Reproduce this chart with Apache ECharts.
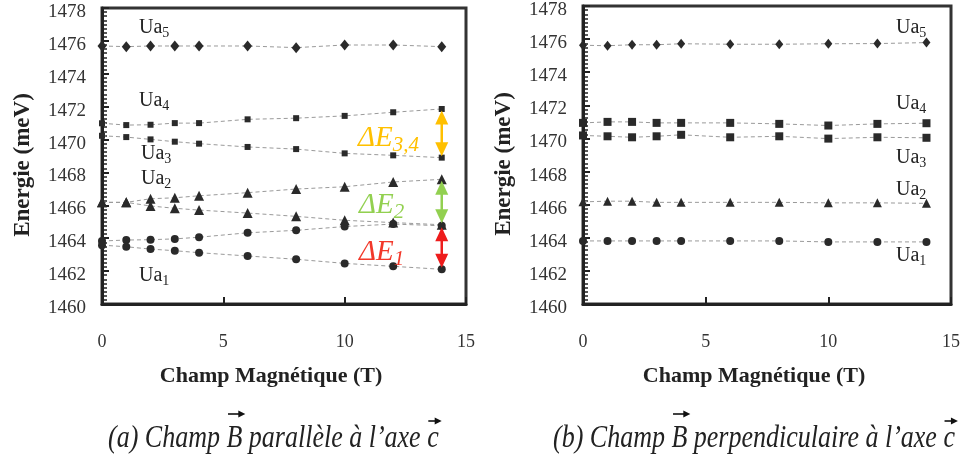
<!DOCTYPE html>
<html><head><meta charset="utf-8">
<script src="https://cdn.jsdelivr.net/npm/echarts@6/dist/echarts.min.js"></script>
<style>html,body{margin:0;padding:0;background:#fff}#c{width:966px;height:461px}</style>
</head><body><div id="c"></div>
<script>
// Magnetic field values (T)
const fieldT = [0, 1, 2, 3, 4, 6, 8, 10, 12, 14];
const xTicks = [0, 5, 10, 15];
const yTicks = [1460, 1462, 1464, 1466, 1468, 1470, 1472, 1474, 1476, 1478];

// (a) B parallel to c axis (meV)
const ua5Par  = [1475.69, 1475.65, 1475.69, 1475.69, 1475.69, 1475.69, 1475.59, 1475.75, 1475.75, 1475.65];
const ua4Par  = [1470.99, 1470.88, 1470.90, 1471.00, 1471.00, 1471.23, 1471.30, 1471.44, 1471.66, 1471.86];
const ua3Par  = [1470.23, 1470.15, 1470.01, 1469.87, 1469.75, 1469.55, 1469.42, 1469.16, 1469.04, 1468.90];
const ua2uPar = [1466.18, 1466.18, 1466.40, 1466.46, 1466.58, 1466.77, 1466.99, 1467.13, 1467.42, 1467.58];
const ua2lPar = [1466.18, 1466.18, 1465.96, 1465.82, 1465.71, 1465.53, 1465.33, 1465.09, 1464.95, 1464.82];
const ua1uPar = [1463.83, 1463.89, 1463.91, 1463.96, 1464.06, 1464.33, 1464.48, 1464.71, 1464.86, 1464.76];
const ua1lPar = [1463.58, 1463.48, 1463.34, 1463.24, 1463.12, 1462.92, 1462.72, 1462.47, 1462.29, 1462.11];

// (b) B perpendicular to c axis (meV)
const ua5Perp = [1475.63, 1475.60, 1475.66, 1475.66, 1475.72, 1475.69, 1475.69, 1475.72, 1475.73, 1475.79];
const ua4Perp = [1470.94, 1471.00, 1471.00, 1470.94, 1470.94, 1470.94, 1470.88, 1470.78, 1470.88, 1470.92];
const ua3Perp = [1470.18, 1470.13, 1470.07, 1470.13, 1470.22, 1470.07, 1470.13, 1469.99, 1470.07, 1470.04];
const ua2Perp = [1466.17, 1466.21, 1466.21, 1466.14, 1466.14, 1466.14, 1466.14, 1466.11, 1466.11, 1466.08];
const ua1Perp = [1463.81, 1463.81, 1463.81, 1463.81, 1463.81, 1463.81, 1463.81, 1463.75, 1463.75, 1463.75];

const SERIF = '"Liberation Serif", "Times New Roman", serif';
const INK = '#2a2a2a';

function ser(name, vals, symbol, size, gi) {
  return {
    name, type: 'line', xAxisIndex: gi, yAxisIndex: gi,
    data: fieldT.map((x, i) => [x, vals[i]]),
    symbol, symbolSize: size, showSymbol: true,
    itemStyle: { color: INK },
    lineStyle: { color: '#9a9a9a', width: 1, type: [4, 3] },
    z: 3, animation: false
  };
}

function xAxis(gi) {
  return {
    gridIndex: gi, type: 'value', min: xTicks[0], max: xTicks[xTicks.length - 1], interval: 5,
    name: 'Champ Magnétique (T)', nameLocation: 'middle', nameGap: 61,
    nameTextStyle: { fontFamily: SERIF, fontWeight: 'bold', fontSize: 22, color: '#222', padding: [0, 26, 0, 0] },
    axisLine: { show: true, onZero: false, lineStyle: { color: '#222', width: 3 } },
    axisTick: { show: true, inside: true, length: 7, lineStyle: { color: '#222', width: 2 } },
    axisLabel: { fontFamily: SERIF, fontSize: 18, color: '#333', margin: 29, formatter: v => String(v) },
    splitLine: { show: false }
  };
}
function yAxis(gi) {
  return {
    gridIndex: gi, type: 'value', min: yTicks[0], max: yTicks[yTicks.length - 1], interval: 2,
    name: 'Energie (meV)', nameLocation: 'middle', nameGap: 67,
    nameTextStyle: { fontFamily: SERIF, fontWeight: 'bold', fontSize: 23, color: '#222', padding: [0, 18, 0, 0] },
    axisLine: { show: true, onZero: false, lineStyle: { color: '#222', width: 3 } },
    axisTick: { show: true, inside: true, length: 7, lineStyle: { color: '#222', width: 2 } },
    minorTick: { show: true, splitNumber: 8, length: 5, lineStyle: { color: '#222', width: 1.5 } },
    axisLabel: { fontFamily: SERIF, fontSize: 19, color: '#333', margin: 16, verticalAlign: 'top', lineHeight: 8, formatter: v => String(v) },
    splitLine: { show: false }, minorSplitLine: { show: false }
  };
}

const chart = echarts.init(document.getElementById('c'), null, { renderer: 'canvas' });
chart.setOption({
  animation: false,
  backgroundColor: '#fff',
  grid: [
    { left: 102, top: 8, width: 364, height: 296, show: true, borderColor: '#333', borderWidth: 3, backgroundColor: 'transparent' },
    { left: 583, top: 6, width: 368, height: 298, show: true, borderColor: '#333', borderWidth: 3, backgroundColor: 'transparent' }
  ],
  xAxis: [xAxis(0), xAxis(1)],
  yAxis: [yAxis(0), yAxis(1)],
  series: [
    ser('Ua5', ua5Par, 'diamond', [9, 11], 0),
    ser('Ua4', ua4Par, 'rect', 6, 0),
    ser('Ua3', ua3Par, 'rect', 6, 0),
    ser('Ua2+', ua2uPar, 'triangle', 10, 0),
    ser('Ua2-', ua2lPar, 'triangle', 10, 0),
    ser('Ua1+', ua1uPar, 'circle', 8, 0),
    ser('Ua1-', ua1lPar, 'circle', 8, 0),
    ser('Ua5b', ua5Perp, 'diamond', [8, 10], 1),
    ser('Ua4b', ua4Perp, 'rect', 8, 1),
    ser('Ua3b', ua3Perp, 'rect', 8, 1),
    ser('Ua2b', ua2Perp, 'triangle', 9, 1),
    ser('Ua1b', ua1Perp, 'circle', 8, 1)
  ]
});

// ---- annotations ----
const els = [];
function uaLabel(x, y, n) {
  els.push({
    type: 'text', x, y, z: 10,
    style: {
      text: '{m|Ua}{s|' + n + '}',
      rich: {
        m: { fontFamily: SERIF, fontSize: 20, fill: '#222' },
        s: { fontFamily: SERIF, fontSize: 14, fill: '#222', padding: [11, 0, 0, 0] }
      },
      verticalAlign: 'middle'
    }
  });
}
uaLabel(139, 28, 5); uaLabel(139, 101, 4); uaLabel(141, 154, 3); uaLabel(141, 179, 2); uaLabel(139, 276, 1);
uaLabel(896, 28, 5); uaLabel(896, 104, 4); uaLabel(896, 158, 3); uaLabel(896, 190, 2); uaLabel(896, 256, 1);

function dArrow(xv, v1, v2, color) {
  const p1 = chart.convertToPixel({ gridIndex: 0 }, [xv, v1]);
  const p2 = chart.convertToPixel({ gridIndex: 0 }, [xv, v2]);
  const x = p1[0], yt = Math.min(p1[1], p2[1]) + 1.5, yb = Math.max(p1[1], p2[1]) - 1.5;
  const hw = 6.5, hl = 14;
  els.push({ type: 'line', z: 9, shape: { x1: x, y1: yt + hl - 2, x2: x, y2: yb - hl + 2 }, style: { stroke: color, lineWidth: 2.5 } });
  els.push({ type: 'polygon', z: 9, shape: { points: [[x, yt], [x - hw, yt + hl], [x + hw, yt + hl]] }, style: { fill: color } });
  els.push({ type: 'polygon', z: 9, shape: { points: [[x, yb], [x - hw, yb - hl], [x + hw, yb - hl]] }, style: { fill: color } });
}
const last = fieldT.length - 1;
dArrow(fieldT[last], ua4Par[last], ua3Par[last], '#FFC000');
dArrow(fieldT[last], ua2uPar[last], ua2lPar[last], '#92D050');
dArrow(fieldT[last], ua1uPar[last], ua1lPar[last], '#EE1C1C');

function dLabel(x, y, sub, color) {
  els.push({
    type: 'text', x, y, z: 10,
    style: {
      text: '{m|ΔE}{s|' + sub + '}',
      rich: {
        m: { fontFamily: SERIF, fontStyle: 'italic', fontSize: 29, fill: color },
        s: { fontFamily: SERIF, fontStyle: 'italic', fontSize: 21, fill: color, padding: [14, 0, 0, 0] }
      },
      verticalAlign: 'middle'
    }
  });
}
dLabel(358, 138, '3,4', '#FFC000');
dLabel(359, 205, '2', '#92D050');
dLabel(359, 252, '1', '#F2382A');

// captions with vector arrows over B and c
const capFont = 'italic 26px "Liberation Serif"';
const cv = document.createElement('canvas').getContext('2d');
cv.font = capFont;
function caption(x0, yc, parts) {
  let x = x0;
  parts.forEach(p => {
    const w = cv.measureText(p.t).width;
    els.push({ type: 'text', x, y: yc, z: 10, scaleY: 1.25, originX: 0, originY: 0,
      style: { text: p.t, font: capFont, fill: '#222', verticalAlign: 'middle' } });
    if (p.vec) {
      const ay = yc - (p.low ? 17 : 24);
      const ax1 = x + w * 0.1, ax2 = x + w + 3;
      els.push({ type: 'line', z: 10, shape: { x1: ax1, y1: ay, x2: ax2 - 5, y2: ay }, style: { stroke: '#111', lineWidth: 1.6 } });
      els.push({ type: 'polygon', z: 10, shape: { points: [[ax2, ay], [ax2 - 7, ay - 3.5], [ax2 - 7, ay + 3.5]] }, style: { fill: '#111' } });
    }
    x += w;
  });
}
caption(108, 438, [{ t: '(a) Champ ' }, { t: 'B', vec: true }, { t: ' parallèle à l’axe ' }, { t: 'c', vec: true, low: true }]);
caption(553, 438, [{ t: '(b) Champ ' }, { t: 'B', vec: true }, { t: ' perpendiculaire à l’axe ' }, { t: 'c', vec: true, low: true }]);

chart.setOption({ graphic: els });
</script></body></html>
